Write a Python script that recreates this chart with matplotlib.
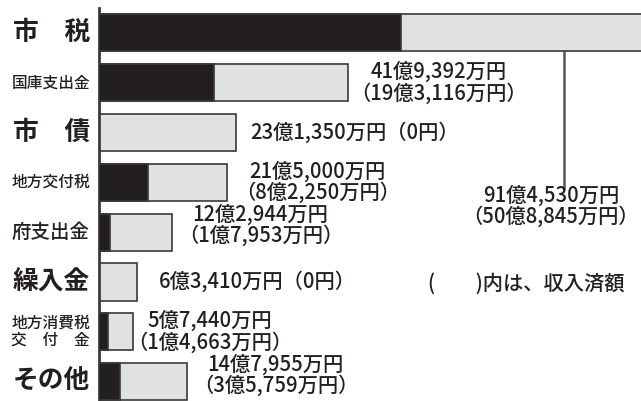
import matplotlib
matplotlib.use("Agg")
import matplotlib.pyplot as plt

plt.rcParams["font.family"] = ["Noto Sans CJK JP", "DejaVu Sans"]

# 歳入の内訳 (単位: 万円)
categories = ["市\u3000税", "国庫支出金", "市\u3000債", "地方交付税", "府支出金",
              "繰入金", "地方消費税\n交\u3000付\u3000金", "その他"]
budget_man = [914530, 419392, 231350, 215000, 122944, 63410, 57440, 147955]
received_man = [508845, 193116, 0, 82250, 17953, 0, 14663, 35759]
note_text = "(\u3000\u3000)内は、収入済額"

# layout
cat_size = [18.5, 11.3, 18.5, 11.3, 14, 18.5, 11.3, 18.5]
cat_bold = [True, False, True, False, False, True, False, True]
label_dx = [0, 2, 14, 8, 6, 22, -6, 6]      # px from bar end
label_dy = [0, 0, 0, 0, 7, 0, 0, 6]         # px upward

BLACK = "#231f20"
LIGHT = "#e0e1e3"
EDGE = "#3a3a3a"


def yen(v):
    if v == 0:
        return "0円"
    oku, man = divmod(v, 10000)
    return f"{oku}億{man:,}万円"


def main():
    fig = plt.figure(figsize=(6.41, 4.01), dpi=100)
    left_px, top_px = 99, 8
    ax = fig.add_axes([left_px / 641, 0, (641 - left_px) / 641, (401 - top_px) / 401])

    y = list(range(len(categories)))
    h = 0.745
    ax.barh(y, budget_man, height=h, color=LIGHT, edgecolor=EDGE, linewidth=1.2, zorder=2)
    ax.barh(y, received_man, height=h, color=BLACK, edgecolor=EDGE, linewidth=1.2, zorder=3)

    ax.set_xlim(0, 912500)
    ax.set_ylim(7.39, -0.5)
    for s in ["top", "right", "bottom"]:
        ax.spines[s].set_visible(False)
    ax.spines["left"].set_color("#3a3a3a")
    ax.spines["left"].set_linewidth(2)
    ax.set_xticks([])
    ax.set_yticks([])

    ylab = ax.get_yaxis_transform()
    for i, cat in enumerate(categories):
        ax.text(-9 / 542, i, cat, transform=ylab, ha="right", va="center",
                fontsize=cat_size[i], fontweight="bold" if cat_bold[i] else "medium",
                color=BLACK, linespacing=1.05)

    fs = 14.6
    fw = "medium"
    for i in range(1, len(categories)):
        if received_man[i] == 0:
            txt = f"{yen(budget_man[i])}（{yen(received_man[i])}）"
        else:
            txt = f"{yen(budget_man[i])}\n（{yen(received_man[i])}）"
        ax.annotate(txt, xy=(budget_man[i], i), xytext=(label_dx[i] * 0.72, label_dy[i] * 0.72),
                    textcoords="offset points", ha="left", va="center",
                    multialignment="center", fontsize=fs, fontweight=fw,
                    color=BLACK, linespacing=0.95)

    # 市税 leader line and label
    px = 912500 / 542
    x_lead = (564 - left_px) * px
    ax.plot([x_lead, x_lead], [h / 2, 3.11], color="#555555", linewidth=1.8, zorder=1)
    ax.text((551 - left_px) * px, 3.48, f"{yen(budget_man[0])}\n（{yen(received_man[0])}）",
            ha="center", va="center", multialignment="center", fontsize=fs,
            fontweight=fw, color=BLACK, linespacing=0.95)

    ax.text((428 - left_px) * px, 5.04, note_text, ha="left", va="center",
            fontsize=fs, fontweight=fw, color=BLACK)

    fig.savefig("out.png", dpi=100)


if __name__ == "__main__":
    main()
